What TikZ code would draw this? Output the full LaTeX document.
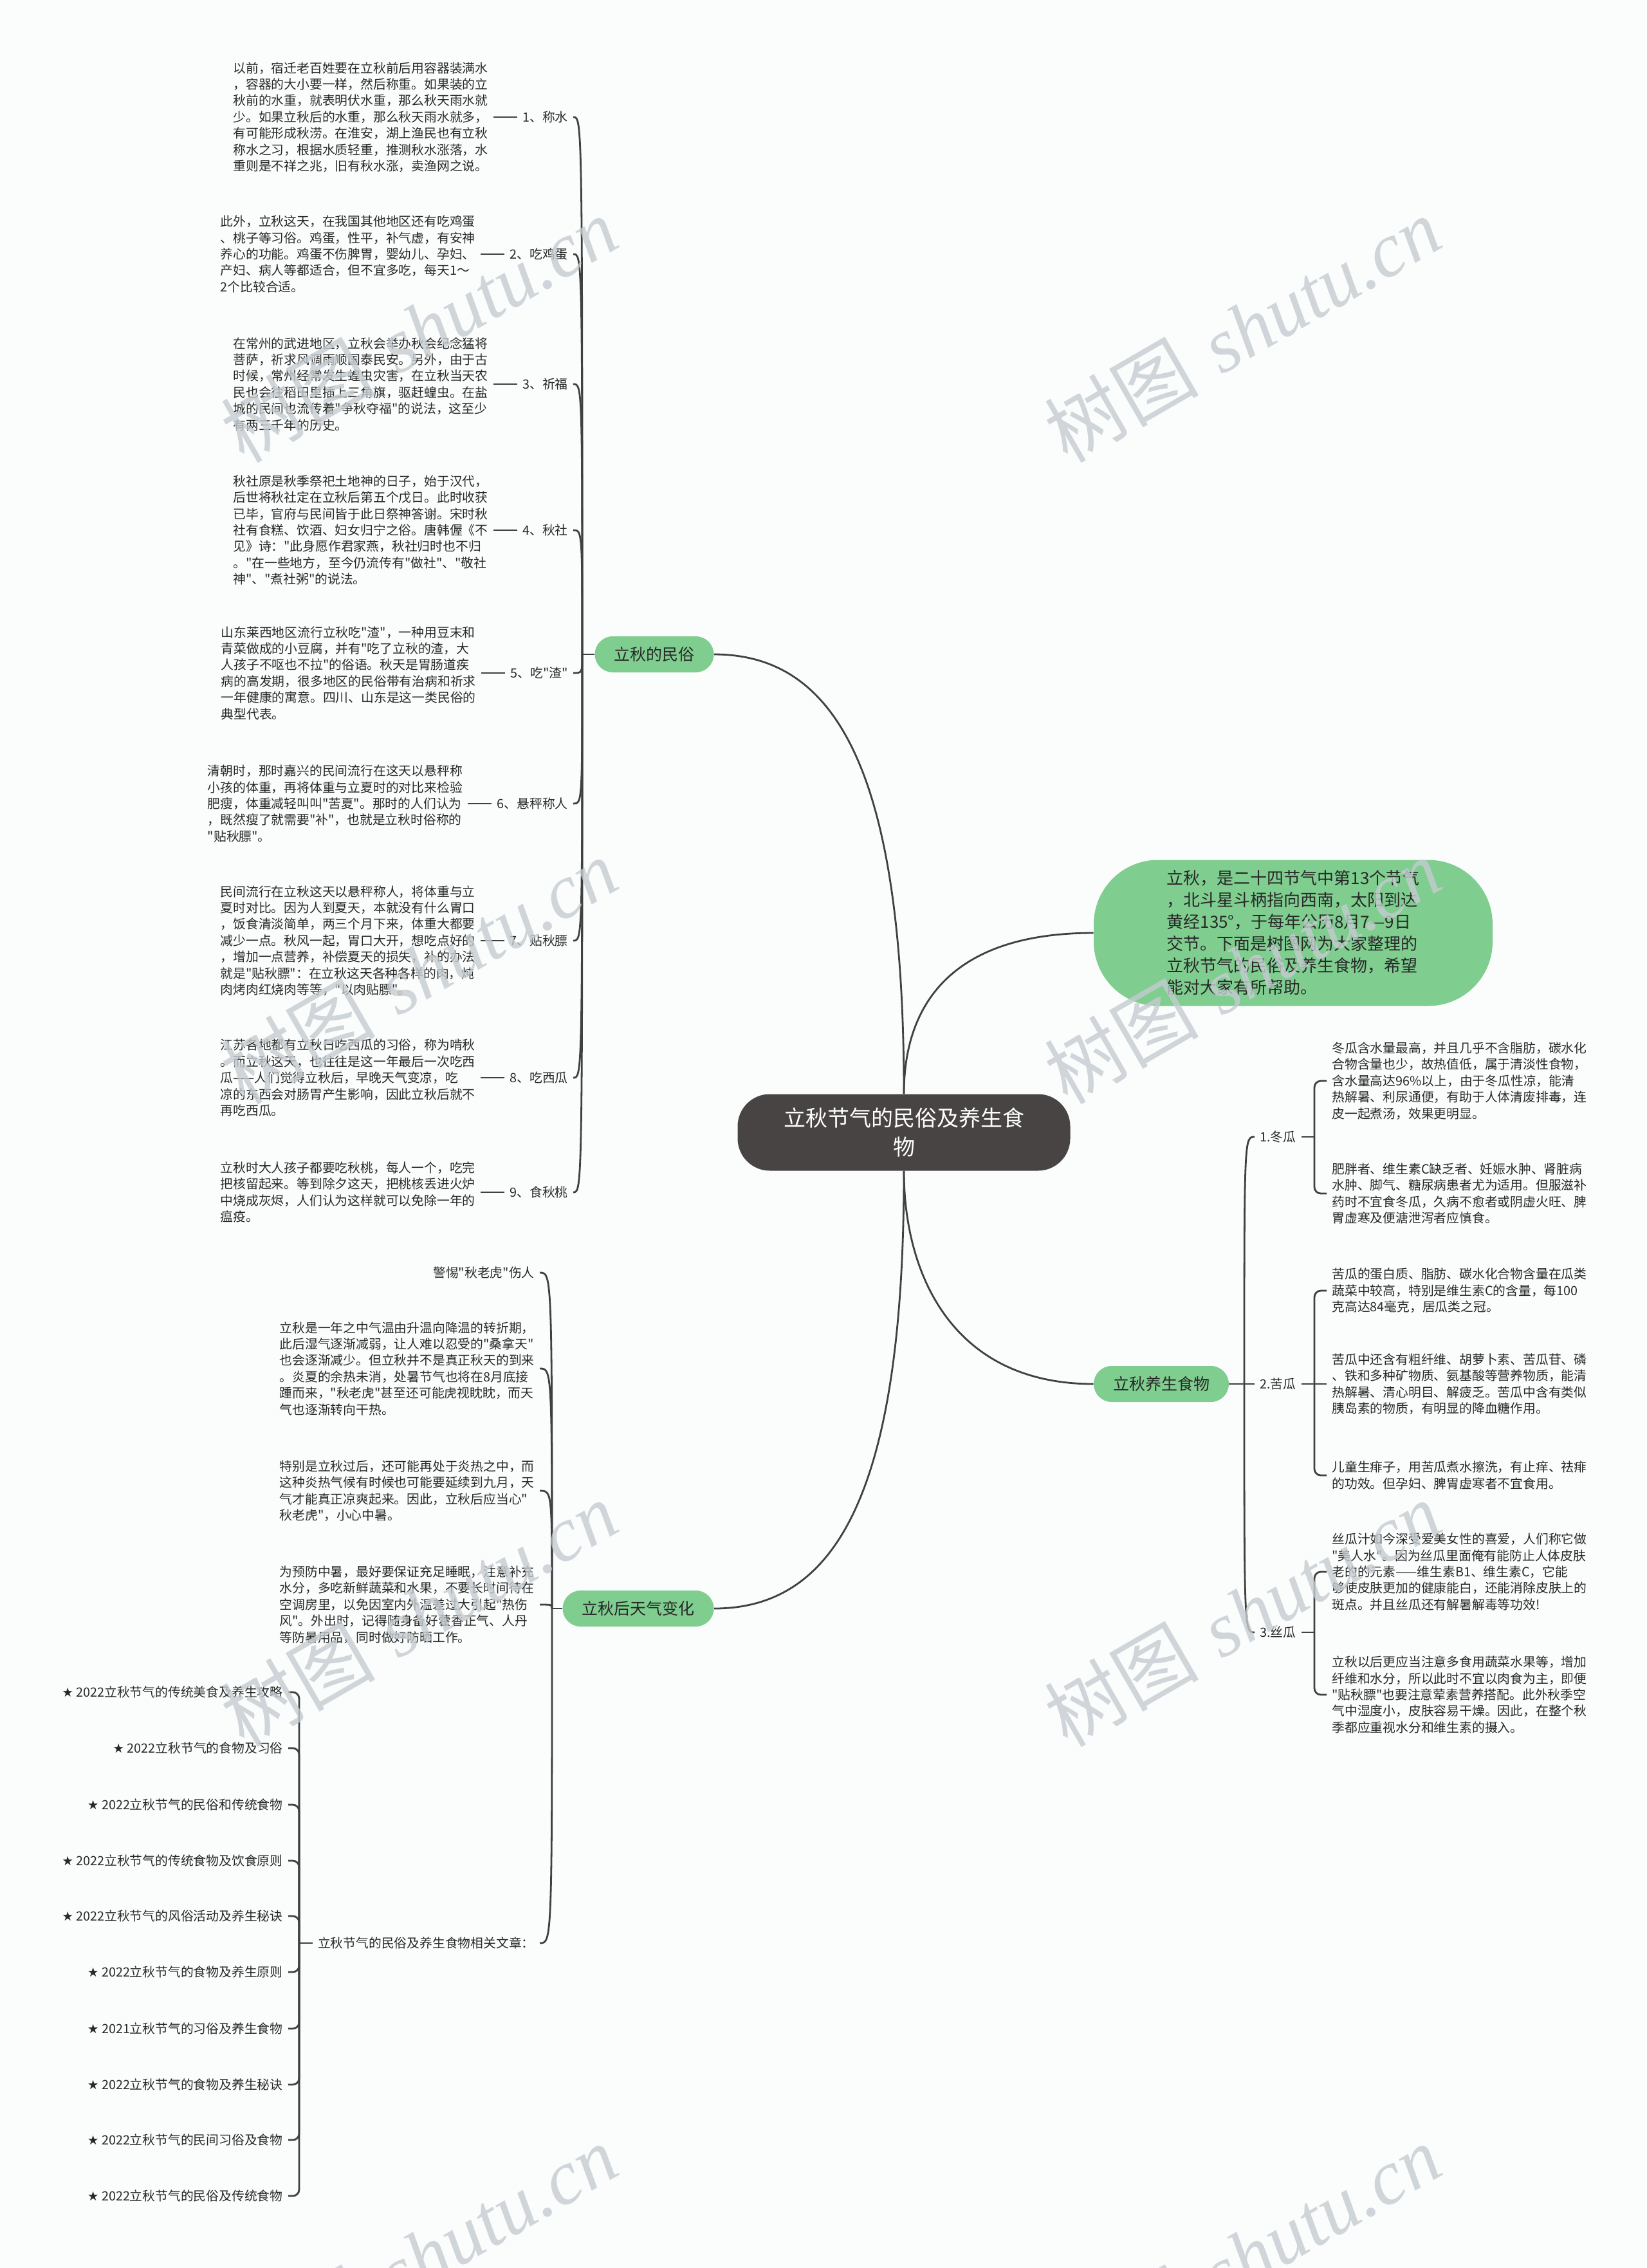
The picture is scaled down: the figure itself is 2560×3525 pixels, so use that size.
\documentclass[tikz,border=0pt]{standalone}
\usepackage{fontspec}
\newfontfamily\cjk{Noto Sans CJK SC}
\newfontfamily\symf{DejaVu Sans}
\newfontfamily\wmlat{Liberation Serif}
\usetikzlibrary{positioning}
\definecolor{grn}{RGB}{127,205,143}
\definecolor{dark}{RGB}{72,68,68}
\definecolor{linec}{RGB}{64,64,64}
\definecolor{txtc}{RGB}{40,40,40}
\definecolor{wmc}{RGB}{196,204,208}
\definecolor{bgc}{RGB}{251,253,253}
\begin{document}
\begin{tikzpicture}[x=0.5pt,y=-0.5pt,
  conn/.style={draw=linec,line width=1.4pt},
  txt/.style={font=\cjk\fontsize{9.9}{12.7}\selectfont,text=txtc,align=left,inner xsep=4pt,inner ysep=1pt},
  gnode/.style={fill=grn,rounded corners=14pt,minimum height=28pt,inner xsep=15pt,font=\cjk\fontsize{12.5}{15}\selectfont,text=txtc},
  wm/.style={text=wmc,text opacity=0.8,rotate=30,font=\fontsize{60}{60}\selectfont},
]
\useasboundingbox[fill=bgc] (0,0) rectangle (2560,3525);

% central and main nodes
\node[fill=dark,text=white,rounded corners=25pt,minimum width=258.5pt,minimum height=59.5pt,align=center,font=\cjk\fontsize{17}{22.5}\selectfont] (c) at (1405,1760) {立秋节气的民俗及养生食\\物};
\node[fill=grn,rounded corners=50pt,minimum width=310pt,minimum height=113.5pt,align=left,font=\cjk\fontsize{13}{17}\selectfont,text=txtc] (intro) at (2010,1450) {立秋，是二十四节气中第13个节气\\，北斗星斗柄指向西南，太阳到达\\黄经135°，于每年公历8月7—9日\\交节。下面是树图网为大家整理的\\立秋节气的民俗及养生食物，希望\\能对大家有所帮助。};
\node[gnode] (m) at (1017,1017) {立秋的民俗};
\node[gnode] (s) at (1805,2151) {立秋养生食物};
\node[gnode] (w) at (992,2500) {立秋后天气变化};

\draw[conn] (c.north) .. controls (1405,1200) and (1300,1017) .. (m.east);
\draw[conn] (c.north) .. controls (1405,1560) and (1480,1450) .. (intro.west);
\draw[conn] (c.south) .. controls (1405,1980) and (1480,2151) .. (s.west);
\draw[conn] (c.south) .. controls (1405,2319) and (1300,2500) .. (w.east);

% ---- folk customs
\node[txt,anchor=east] (l1) at (891,182) {1、称水};
\node[txt,anchor=east] (l2) at (891,395) {2、吃鸡蛋};
\node[txt,anchor=east] (l3) at (891,597) {3、祈福};
\node[txt,anchor=east] (l4) at (891,824) {4、秋社};
\node[txt,anchor=east] (l5) at (891,1046) {5、吃"渣"};
\node[txt,anchor=east] (l6) at (891,1249) {6、悬秤称人};
\node[txt,anchor=east] (l7) at (891,1462) {7、贴秋膘};
\node[txt,anchor=east] (l8) at (891,1675) {8、吃西瓜};
\node[txt,anchor=east] (l9) at (891,1853) {9、食秋桃};

\node[txt,left=18.5pt of l1] (b1) {以前，宿迁老百姓要在立秋前后用容器装满水\\，容器的大小要一样，然后称重。如果装的立\\秋前的水重，就表明伏水重，那么秋天雨水就\\少。如果立秋后的水重，那么秋天雨水就多，\\有可能形成秋涝。在淮安，湖上渔民也有立秋\\称水之习，根据水质轻重，推测秋水涨落，水\\重则是不祥之兆，旧有秋水涨，卖渔网之说。};
\node[txt,left=18.5pt of l2] (b2) {此外，立秋这天，在我国其他地区还有吃鸡蛋\\、桃子等习俗。鸡蛋，性平，补气虚，有安神\\养心的功能。鸡蛋不伤脾胃，婴幼儿、孕妇、\\产妇、病人等都适合，但不宜多吃，每天1～\\2个比较合适。};
\node[txt,left=18.5pt of l3] (b3) {在常州的武进地区，立秋会举办秋会纪念猛将\\菩萨，祈求风调雨顺国泰民安。另外，由于古\\时候，常州经常发生蝗虫灾害，在立秋当天农\\民也会往稻田里插上三角旗，驱赶蝗虫。在盐\\城的民间也流传着"争秋夺福"的说法，这至少\\有两三千年的历史。};
\node[txt,left=18.5pt of l4] (b4) {秋社原是秋季祭祀土地神的日子，始于汉代，\\后世将秋社定在立秋后第五个戊日。此时收获\\已毕，官府与民间皆于此日祭神答谢。宋时秋\\社有食糕、饮酒、妇女归宁之俗。唐韩偓《不\\见》诗："此身愿作君家燕，秋社归时也不归\\。"在一些地方，至今仍流传有"做社"、"敬社\\神"、"煮社粥"的说法。};
\node[txt,left=18.5pt of l5] (b5) {山东莱西地区流行立秋吃"渣"，一种用豆末和\\青菜做成的小豆腐，并有"吃了立秋的渣，大\\人孩子不呕也不拉"的俗语。秋天是胃肠道疾\\病的高发期，很多地区的民俗带有治病和祈求\\一年健康的寓意。四川、山东是这一类民俗的\\典型代表。};
\node[txt,left=18.5pt of l6] (b6) {清朝时，那时嘉兴的民间流行在这天以悬秤称\\小孩的体重，再将体重与立夏时的对比来检验\\肥瘦，体重减轻叫叫"苦夏"。那时的人们认为\\，既然瘦了就需要"补"，也就是立秋时俗称的\\"贴秋膘"。};
\node[txt,left=18.5pt of l7] (b7) {民间流行在立秋这天以悬秤称人，将体重与立\\夏时对比。因为人到夏天，本就没有什么胃口\\，饭食清淡简单，两三个月下来，体重大都要\\减少一点。秋风一起，胃口大开，想吃点好的\\，增加一点营养，补偿夏天的损失，补的办法\\就是"贴秋膘"：在立秋这天各种各样的肉，炖\\肉烤肉红烧肉等等，"以肉贴膘"。};
\node[txt,left=18.5pt of l8] (b8) {江苏各地都有立秋日吃西瓜的习俗，称为啃秋\\。而立秋这天，也往往是这一年最后一次吃西\\瓜——人们觉得立秋后，早晚天气变凉，吃\\凉的东西会对肠胃产生影响，因此立秋后就不\\再吃西瓜。};
\node[txt,left=18.5pt of l9] (b9) {立秋时大人孩子都要吃秋桃，每人一个，吃完\\把核留起来。等到除夕这天，把桃核丢进火炉\\中烧成灰烬，人们认为这样就可以免除一年的\\瘟疫。};

\draw[conn] (m.west) -- (905,1017);
\foreach \n/\y in {1/182,2/395,3/597,4/824,5/1046,6/1249,7/1462,8/1675,9/1853}{
  \draw[conn] (905,1017) .. controls (905,\y) .. (l\n.east);
  \draw[conn] (l\n.west) -- (b\n.east);
}

% ---- weather
\node[txt,anchor=east] (w0) at (839,1978) {警惕"秋老虎"伤人};
\node[txt,anchor=east] (w1) at (839,2127) {立秋是一年之中气温由升温向降温的转折期，\\此后湿气逐渐减弱，让人难以忍受的"桑拿天"\\也会逐渐减少。但立秋并不是真正秋天的到来\\。炎夏的余热未消，处暑节气也将在8月底接\\踵而来，"秋老虎"甚至还可能虎视眈眈，而天\\气也逐渐转向干热。};
\node[txt,anchor=east] (w2) at (839,2317) {特别是立秋过后，还可能再处于炎热之中，而\\这种炎热气候有时候也可能要延续到九月，天\\气才能真正凉爽起来。因此，立秋后应当心"\\秋老虎"，小心中暑。};
\node[txt,anchor=east] (w3) at (839,2494) {为预防中暑，最好要保证充足睡眠，注意补充\\水分，多吃新鲜蔬菜和水果，不要长时间待在\\空调房里，以免因室内外温差过大引起"热伤\\风"。外出时，记得随身备好藿香正气、人丹\\等防暑用品，同时做好防晒工作。};
\node[txt,anchor=east] (w4) at (839,3020) {立秋节气的民俗及养生食物相关文章：};

\draw[conn] (w.west) -- (858,2500);
\foreach \n/\y in {0/1978,1/2127,2/2317,3/2494,4/3020}{
  \draw[conn] (858,2500) .. controls (858,\y) .. (w\n.east);
}

% ---- related articles
\node[txt,anchor=east] (a1) at (448,2630) {{\symf ★} 2022立秋节气的传统美食及养生攻略};
\node[txt,anchor=east] (a2) at (448,2717) {{\symf ★} 2022立秋节气的食物及习俗};
\node[txt,anchor=east] (a3) at (448,2805) {{\symf ★} 2022立秋节气的民俗和传统食物};
\node[txt,anchor=east] (a4) at (448,2892) {{\symf ★} 2022立秋节气的传统食物及饮食原则};
\node[txt,anchor=east] (a5) at (448,2978) {{\symf ★} 2022立秋节气的风俗活动及养生秘诀};
\node[txt,anchor=east] (a6) at (448,3065) {{\symf ★} 2022立秋节气的食物及养生原则};
\node[txt,anchor=east] (a7) at (448,3153) {{\symf ★} 2021立秋节气的习俗及养生食物};
\node[txt,anchor=east] (a8) at (448,3240) {{\symf ★} 2022立秋节气的食物及养生秘诀};
\node[txt,anchor=east] (a9) at (448,3326) {{\symf ★} 2022立秋节气的民间习俗及食物};
\node[txt,anchor=east] (a10) at (448,3413) {{\symf ★} 2022立秋节气的民俗及传统食物};

\draw[conn] (w4.west) -- (465,3020);
\foreach \n/\y in {1/2630,2/2717,3/2805,4/2892,5/2978,6/3065,7/3153,8/3240,9/3326,10/3413}{
  \draw[conn,rounded corners=5pt] (465,3020) -- (465,\y) -- (a\n.east);
}

% ---- health foods
\node[txt,anchor=west] (r1) at (1950,1767) {1.冬瓜};
\node[txt,anchor=west] (r2) at (1950,2151) {2.苦瓜};
\node[txt,anchor=west] (r3) at (1950,2537) {3.丝瓜};
\draw[conn] (s.east) -- (1934,2151);
\draw[conn] (1934,2151) .. controls (1934,1767) .. (r1.west);
\draw[conn] (1934,2151) -- (r2.west);
\draw[conn] (1934,2151) .. controls (1934,2537) .. (r3.west);

\node[txt,anchor=west] (d1) at (2062,1680) {冬瓜含水量最高，并且几乎不含脂肪，碳水化\\合物含量也少，故热值低，属于清淡性食物，\\含水量高达96\%以上，由于冬瓜性凉，能清\\热解暑、利尿通便，有助于人体清废排毒，连\\皮一起煮汤，效果更明显。};
\node[txt,anchor=west] (d2) at (2062,1855) {肥胖者、维生素C缺乏者、妊娠水肿、肾脏病\\水肿、脚气、糖尿病患者尤为适用。但服滋补\\药时不宜食冬瓜，久病不愈者或阴虚火旺、脾\\胃虚寒及便溏泄泻者应慎食。};
\node[txt,anchor=west] (k1) at (2062,2006) {苦瓜的蛋白质、脂肪、碳水化合物含量在瓜类\\蔬菜中较高，特别是维生素C的含量，每100\\克高达84毫克，居瓜类之冠。};
\node[txt,anchor=west] (k2) at (2062,2151) {苦瓜中还含有粗纤维、胡萝卜素、苦瓜苷、磷\\、铁和多种矿物质、氨基酸等营养物质，能清\\热解暑、清心明目、解疲乏。苦瓜中含有类似\\胰岛素的物质，有明显的降血糖作用。};
\node[txt,anchor=west] (k3) at (2062,2293) {儿童生痱子，用苦瓜煮水擦洗，有止痒、祛痱\\的功效。但孕妇、脾胃虚寒者不宜食用。};
\node[txt,anchor=west] (g1) at (2062,2443) {丝瓜汁如今深受爱美女性的喜爱，人们称它做\\"美人水"。因为丝瓜里面俺有能防止人体皮肤\\老的的元素——维生素B1、维生素C，它能\\够使皮肤更加的健康能白，还能消除皮肤上的\\斑点。并且丝瓜还有解暑解毒等功效!};
\node[txt,anchor=west] (g2) at (2062,2634) {立秋以后更应当注意多食用蔬菜水果等，增加\\纤维和水分，所以此时不宜以肉食为主，即便\\"贴秋膘"也要注意荤素营养搭配。此外秋季空\\气中湿度小，皮肤容易干燥。因此，在整个秋\\季都应重视水分和维生素的摄入。};

\draw[conn] (r1.east) -- (2043,1767);
\draw[conn,rounded corners=5pt] (2043,1767) -- (2043,1680) -- (d1.west);
\draw[conn,rounded corners=5pt] (2043,1767) -- (2043,1855) -- (d2.west);
\draw[conn] (r2.east) -- (k2.west);
\draw[conn,rounded corners=5pt] (2043,2151) -- (2043,2006) -- (k1.west);
\draw[conn,rounded corners=5pt] (2043,2151) -- (2043,2293) -- (k3.west);
\draw[conn] (r3.east) -- (2043,2537);
\draw[conn,rounded corners=5pt] (2043,2537) -- (2043,2443) -- (g1.west);
\draw[conn,rounded corners=5pt] (2043,2537) -- (2043,2634) -- (g2.west);

% ---- watermarks
\foreach \wx in {651,1931}{
  \foreach \wy in {512,1509,2508,3508}{
    \node[wm] at (\wx,\wy) {{\cjk 树图} {\wmlat\itshape shutu.cn}};
  }
}
\end{tikzpicture}
\end{document}
